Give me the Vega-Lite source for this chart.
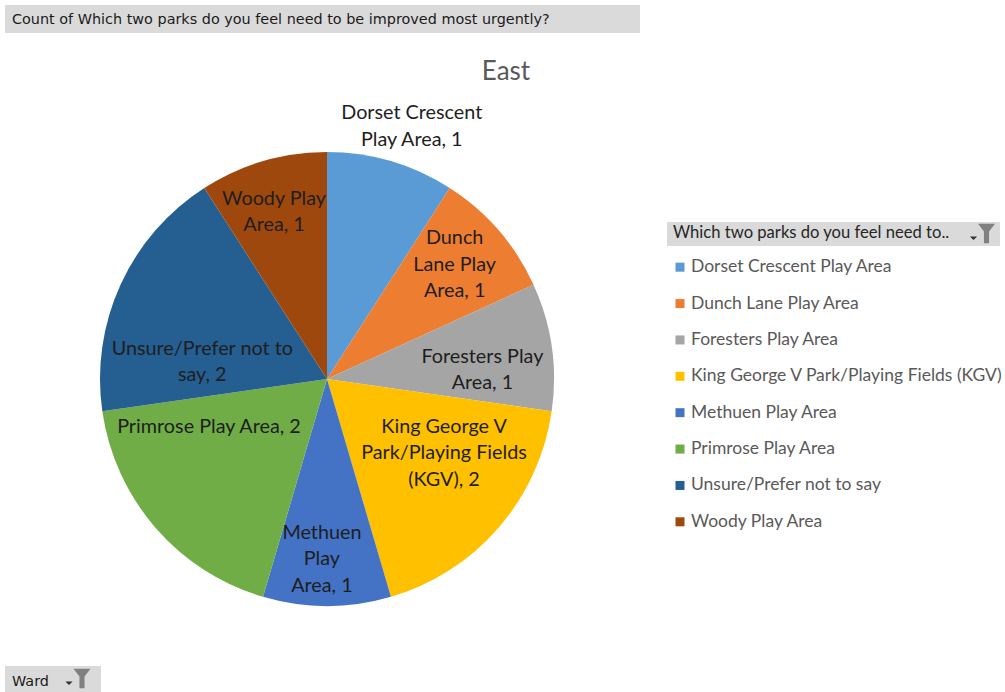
{
  "$schema": "https://vega.github.io/schema/vega-lite/v6.json",
  "background": "white",
  "padding": {"left": 5, "top": 5, "right": 0, "bottom": 0},
  "config": {"view": {"stroke": null}},
  "datasets": {
    "parks": [
      {"park": "Dorset Crescent Play Area", "count": 1, "label": "Dorset Crescent\nPlay Area, 1"},
      {"park": "Dunch Lane Play Area", "count": 1, "label": "Dunch\nLane Play\nArea, 1"},
      {"park": "Foresters Play Area", "count": 1, "label": "Foresters Play\nArea, 1"},
      {"park": "King George V Park/Playing Fields (KGV)", "count": 2, "label": "King George V\nPark/Playing Fields\n(KGV), 2"},
      {"park": "Methuen Play Area", "count": 1, "label": "Methuen\nPlay\nArea, 1"},
      {"park": "Primrose Play Area", "count": 2, "label": "Primrose Play Area, 2"},
      {"park": "Unsure/Prefer not to say", "count": 2, "label": "Unsure/Prefer not to\nsay, 2"},
      {"park": "Woody Play Area", "count": 1, "label": "Woody Play\nArea, 1"}
    ],
    "blank": [{"t": ""}]
  },
  "spacing": 18,
  "hconcat": [
    {
      "spacing": 60,
      "vconcat": [
        {
          "bounds": "flush",
          "spacing": 119,
          "vconcat": [
            {
              "width": 635, "height": 28,
              "view": {"fill": "#dadada", "stroke": null},
              "data": {"name": "blank"},
              "mark": {"type": "text", "text": ""},
              "title": {"text": "Count of Which two parks do you feel need to be improved most urgently?", "anchor": "start", "frame": "group", "offset": -22, "dx": 7, "font": "DejaVu Sans", "fontSize": 14.4, "fontWeight": "normal", "color": "#1a1a1a"}
            },
            {
              "width": 644, "height": 454,
              "data": {"name": "parks"},
              "title": {"text": "East", "anchor": "middle", "dx": 179, "offset": 18, "font": "Lato", "fontSize": 26, "fontWeight": "normal", "color": "#595959"},
              "encoding": {"theta": {"field": "count", "type": "quantitative", "stack": true}, "detail": {"field": "park"}},
              "layer": [
                {
                  "mark": {"type": "arc"},
                  "encoding": {
                    "color": {"field": "park", "type": "nominal", "legend": null,
                      "scale": {"domain": ["Dorset Crescent Play Area", "Dunch Lane Play Area", "Foresters Play Area", "King George V Park/Playing Fields (KGV)", "Methuen Play Area", "Primrose Play Area", "Unsure/Prefer not to say", "Woody Play Area"],
                                "range": ["#5B9BD5", "#ED7D31", "#A5A5A5", "#FFC000", "#4472C4", "#70AD47", "#255E91", "#9E480E"]}}
                  }
                },
                {
                  "transform": [{"filter": "datum.park === 'Dorset Crescent Play Area'"}],
                  "mark": {"type": "text", "radius": 279, "thetaOffset": 0.023, "font": "Lato", "fontSize": 19.8, "lineBreak": "\n", "lineHeight": 26.5, "color": "#1e1e1e", "align": "center", "baseline": "middle"},
                  "encoding": {"text": {"field": "label"}}
                },
                {
                  "mark": {"type": "text", "radius": 190, "thetaOffset": -0.12, "font": "Lato", "fontSize": 19.8, "lineBreak": "\n", "lineHeight": 26.5, "color": "#1e1e1e", "align": "center", "baseline": "middle"},
                  "encoding": {"text": {"condition": {"test": "datum.park === 'Dunch Lane Play Area'", "field": "label"}, "value": ""}}
                },
                {
                  "mark": {"type": "text", "radius": 157, "font": "Lato", "fontSize": 19.8, "lineBreak": "\n", "lineHeight": 26.5, "color": "#1e1e1e", "align": "center", "baseline": "middle"},
                  "encoding": {"text": {"condition": {"test": "datum.park === 'Foresters Play Area'", "field": "label"}, "value": ""}}
                },
                {
                  "mark": {"type": "text", "radius": 126.5, "thetaOffset": -0.325, "font": "Lato", "fontSize": 19.8, "lineBreak": "\n", "lineHeight": 26.5, "color": "#1e1e1e", "align": "center", "baseline": "middle"},
                  "encoding": {"text": {"condition": {"test": "datum.park === 'King George V Park/Playing Fields (KGV)'", "field": "label"}, "value": ""}}
                },
                {
                  "mark": {"type": "text", "radius": 154, "thetaOffset": 0.033, "font": "Lato", "fontSize": 19.8, "lineBreak": "\n", "lineHeight": 26.5, "color": "#1e1e1e", "align": "center", "baseline": "middle"},
                  "encoding": {"text": {"condition": {"test": "datum.park === 'Methuen Play Area'", "field": "label"}, "value": ""}}
                },
                {
                  "mark": {"type": "text", "radius": 127.3, "thetaOffset": 0.33, "font": "Lato", "fontSize": 19.8, "lineBreak": "\n", "lineHeight": 26.5, "color": "#1e1e1e", "align": "center", "baseline": "middle"},
                  "encoding": {"text": {"condition": {"test": "datum.park === 'Primrose Play Area'", "field": "label"}, "value": ""}}
                },
                {
                  "mark": {"type": "text", "radius": 128.3, "thetaOffset": -0.192, "font": "Lato", "fontSize": 19.8, "lineBreak": "\n", "lineHeight": 26.5, "color": "#1e1e1e", "align": "center", "baseline": "middle"},
                  "encoding": {"text": {"condition": {"test": "datum.park === 'Unsure/Prefer not to say'", "field": "label"}, "value": ""}}
                },
                {
                  "mark": {"type": "text", "radius": 188, "font": "Lato", "fontSize": 19.8, "lineBreak": "\n", "lineHeight": 26.5, "color": "#1e1e1e", "align": "center", "baseline": "middle"},
                  "encoding": {"text": {"condition": {"test": "datum.park === 'Woody Play Area'", "field": "label"}, "value": ""}}
                }
              ]
            }
          ]
        },
        {
          "bounds": "flush",
          "spacing": 0,
          "hconcat": [
            {
              "width": 58, "height": 26,
              "view": {"fill": "#dadada", "stroke": null},
              "data": {"name": "blank"},
              "mark": {"type": "text", "text": ""},
              "title": {"text": "Ward", "anchor": "start", "frame": "group", "offset": -23, "dx": 7, "font": "DejaVu Sans", "fontSize": 14.4, "fontWeight": "normal", "color": "#1a1a1a"}
            },
            {
              "width": 38, "height": 26,
              "view": {"fill": "#dadada", "stroke": null},
              "data": {"name": "blank"},
              "layer": [
                {"mark": {"type": "point", "filled": true, "size": 289, "opacity": 1, "color": "#808080", "shape": "M-1,-1.2L1,-1.2L0.3,-0.3L0.3,1.1L-0.3,1.1L-0.3,-0.3Z"}},
                {"mark": {"type": "point", "filled": true, "size": 289, "opacity": 1, "color": "#333333", "shape": "M-1.95,0.3L-1.1,0.3L-1.53,0.7Z"}}
              ]
            }
          ]
        }
      ]
    },
    {
      "spacing": 3,
      "vconcat": [
        {
          "width": 1, "height": 214,
          "data": {"name": "blank"},
          "mark": {"type": "text", "text": ""}
        },
        {
          "bounds": "flush",
          "spacing": 0,
          "hconcat": [
            {
              "width": 306, "height": 24,
              "view": {"fill": "#dadada", "stroke": null},
              "data": {"name": "blank"},
              "mark": {"type": "text", "text": ""},
              "title": {"text": "Which two parks do you feel need to..", "anchor": "start", "frame": "group", "offset": -20, "dx": 6, "font": "Lato", "fontSize": 16.6, "fontWeight": "normal", "color": "#262626"}
            },
            {
              "width": 27, "height": 24,
              "view": {"fill": "#dadada", "stroke": null},
              "data": {"name": "blank"},
              "layer": [
                {"mark": {"type": "point", "filled": true, "size": 289, "opacity": 1, "color": "#808080", "shape": "M-1,-1.2L1,-1.2L0.3,-0.3L0.3,1.1L-0.3,1.1L-0.3,-0.3Z"}},
                {"mark": {"type": "point", "filled": true, "size": 289, "opacity": 1, "color": "#333333", "shape": "M-1.95,0.3L-1.1,0.3L-1.53,0.7Z"}}
              ]
            }
          ]
        },
        {
          "width": 26, "height": 291,
          "data": {"name": "parks"},
          "encoding": {"y": {"field": "park", "type": "nominal", "axis": null, "scale": {"type": "point", "padding": 0.5}}},
          "layer": [
            {
              "mark": {"type": "point", "shape": "square", "filled": true, "size": 81, "opacity": 1},
              "encoding": {"color": {"field": "park", "type": "nominal", "legend": null,
                "scale": {"domain": ["Dorset Crescent Play Area", "Dunch Lane Play Area", "Foresters Play Area", "King George V Park/Playing Fields (KGV)", "Methuen Play Area", "Primrose Play Area", "Unsure/Prefer not to say", "Woody Play Area"],
                          "range": ["#5B9BD5", "#ED7D31", "#A5A5A5", "#FFC000", "#4472C4", "#70AD47", "#255E91", "#9E480E"]}}}
            },
            {
              "mark": {"type": "text", "align": "left", "baseline": "middle", "dx": 11, "font": "Lato", "fontSize": 17.5, "color": "#595959"},
              "encoding": {"text": {"field": "park"}}
            }
          ]
        }
      ]
    }
  ]
}
